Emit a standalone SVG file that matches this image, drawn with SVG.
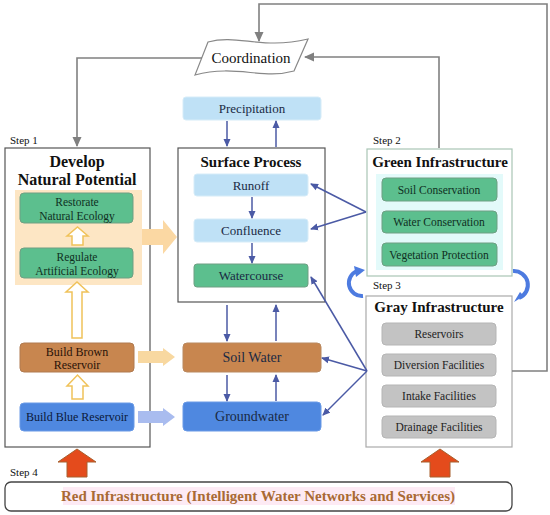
<svg xmlns="http://www.w3.org/2000/svg" width="550" height="515" viewBox="0 0 550 515" font-family="'Liberation Serif', 'DejaVu Serif', serif">
<defs>
<style>
text{font-family:"Liberation Serif","DejaVu Serif",serif;text-anchor:middle}
.step{font-size:11px;text-anchor:start;fill:#111}
.frame{fill:#fff;stroke:#555;stroke-width:1.2}
.title{font-size:14.5px;font-weight:bold;fill:#111}
.lb{fill:#bfe1f6;stroke:#d6ecf8;stroke-width:1}
.gr{fill:#5cbf8e;stroke:#6f9f83;stroke-width:1}
.gy{fill:#c3c3c3;stroke:#b5b5b5;stroke-width:1}
.lbl{font-size:13px;fill:#1a2a44}
.gl{font-size:11.5px;fill:#0f2f1f}
.yl{font-size:11.5px;fill:#222}
.bl{stroke:#4b5aa5;stroke-width:1.5;fill:none}
.cg{stroke:#808080;stroke-width:1.6;fill:none}
.hol{fill:#fff;stroke:#f0c25a;stroke-width:1.5}
.curv{stroke:#4d7be0;stroke-width:4;fill:none}
</style>
<marker id="ab" markerWidth="8" markerHeight="8" refX="7" refY="4" orient="auto" markerUnits="userSpaceOnUse">
<path d="M0,0.5 L8,4 L0,7.5 Z" fill="#4b5aa5"/>
</marker>
<marker id="ag" markerWidth="10" markerHeight="10" refX="9" refY="5" orient="auto" markerUnits="userSpaceOnUse">
<path d="M0,0.5 L10,5 L0,9.5 Z" fill="#808080"/>
</marker>
</defs>
<rect width="550" height="515" fill="#fff"/>

<g id="coordination">
<path d="M208,42 C238,34 262,50 308,39 L294,71 C262,80 236,64 195,75 Z" fill="#fff" stroke="#888" stroke-width="1.2"/>
<text x="251" y="63" style="font-size:15px" fill="#111">Coordination</text>
</g>

<g id="step1">
<text class="step" x="10" y="144">Step 1</text>
<rect class="frame" x="5" y="148" width="145" height="299"/>
<text class="title" x="77" y="167" style="font-size:16px">Develop</text>
<text class="title" x="77" y="185" style="font-size:16px">Natural Potential</text>
<rect x="15" y="190" width="127" height="95" fill="#fde6c4"/>
<path d="M142,229 H163 V220 L177,237 L163,254 V245 H142 Z" fill="#fbd8a3"/>
<rect x="20" y="193" width="113" height="30" rx="4" class="gr"/>
<text class="gl" x="77" y="206">Restorate</text>
<text class="gl" x="77" y="220">Natural Ecology</text>
<path class="hol" d="M72,245 V236 H67 L77.5,227 L88,236 H83 V245 Z"/>
<rect x="20" y="248" width="113" height="30" rx="4" class="gr"/>
<text class="gl" x="77" y="261">Regulate</text>
<text class="gl" x="77" y="275">Artificial Ecology</text>
<path class="hol" d="M72,338 V292 H66 L77,282 L88,292 H82 V338 Z"/>
</g>

<g id="brown">
<rect x="20" y="343" width="114" height="29" rx="4" fill="#c8864f" stroke="#b07a50"/>
<text x="77" y="356" style="font-size:12px" fill="#2a1208">Build Brown</text>
<text x="77" y="369" style="font-size:12px" fill="#2a1208">Reservoir</text>
<path class="hol" d="M72,399 V386 H67 L77.5,375 L88,386 H83 V399 Z"/>
<path d="M138,351 H163 V348 L175,357 L163,366 V363 H138 Z" fill="#f8d8a0"/>
</g>

<g id="blue">
<rect x="20" y="403" width="114" height="28" rx="4" fill="#4f88e0" stroke="#6a9ae6"/>
<text x="77" y="421" style="font-size:12px" fill="#0a1838">Build Blue Reservoir</text>
<path d="M138,411 H163 V408 L175,417 L163,426 V423 H138 Z" fill="#a9bcef"/>
</g>

<g id="precipitation">
<rect x="183" y="97" width="138" height="23" rx="3" class="lb"/>
<text class="lbl" x="252" y="113">Precipitation</text>
</g>

<g id="surface">
<rect class="frame" x="178" y="148" width="147" height="154"/>
<text class="title" x="251" y="167" style="font-size:15px">Surface Process</text>
<rect x="194" y="174" width="114" height="22" rx="3" class="lb"/>
<text class="lbl" x="251" y="190">Runoff</text>
<rect x="194" y="219" width="114" height="23" rx="3" class="lb"/>
<text class="lbl" x="251" y="235">Confluence</text>
<rect x="194" y="264" width="114" height="23" rx="3" class="gr"/>
<text class="lbl" x="251" y="280" fill="#0f2f1f">Watercourse</text>
</g>

<g id="soilwater">
<rect x="183" y="343" width="138" height="29" rx="4" fill="#c8864f" stroke="#b98960"/>
<text class="lbl" x="252" y="362" style="font-size:14px" fill="#2a1208">Soil Water</text>
</g>

<g id="groundwater">
<rect x="183" y="402" width="138" height="29" rx="4" fill="#4f88e0" stroke="#6a9ae6"/>
<text class="lbl" x="252" y="421" style="font-size:14px" fill="#0a1838">Groundwater</text>
</g>

<g id="green">
<text class="step" x="373" y="144">Step 2</text>
<rect x="367" y="149" width="145" height="127" fill="#fff" stroke="#a9c5b5" stroke-width="1.2"/>
<text class="title" x="440" y="167" style="font-size:15px" fill="#3f8a5c">Green Infrastructure</text>
<rect x="376" y="174" width="127" height="96" fill="#e3fafa"/>
<rect x="382" y="178" width="115" height="23" rx="4" class="gr"/>
<text class="gl" x="439" y="194">Soil Conservation</text>
<rect x="382" y="211" width="115" height="22" rx="4" class="gr"/>
<text class="gl" x="439" y="226">Water Conservation</text>
<rect x="382" y="243" width="115" height="23" rx="4" class="gr"/>
<text class="gl" x="439" y="259">Vegetation Protection</text>
</g>

<g id="gray">
<text class="step" x="373" y="289">Step 3</text>
<rect x="366" y="296" width="146" height="151" fill="#fff" stroke="#aaa" stroke-width="1.2"/>
<text class="title" x="439" y="312" style="font-size:15px" fill="#666">Gray Infrastructure</text>
<rect x="382" y="323" width="114" height="22" rx="4" class="gy"/>
<text class="yl" x="439" y="338">Reservoirs</text>
<rect x="382" y="354" width="114" height="22" rx="4" class="gy"/>
<text class="yl" x="439" y="369">Diversion Facilities</text>
<rect x="382" y="385" width="114" height="22" rx="4" class="gy"/>
<text class="yl" x="439" y="400">Intake Facilities</text>
<rect x="382" y="416" width="114" height="22" rx="4" class="gy"/>
<text class="yl" x="439" y="431">Drainage Facilities</text>
</g>

<g id="red">
<text class="step" x="10" y="476">Step 4</text>
<path d="M67,477 V462 H58 L77,449 L96,462 H87 V477 Z" fill="#e44b1c" stroke="#a8602e" stroke-width="1"/>
<path d="M430,477 V462 H421 L440,449 L459,462 H450 V477 Z" fill="#e44b1c" stroke="#a8602e" stroke-width="1"/>
<rect x="5" y="482" width="507" height="29" rx="6" fill="#fff" stroke="#444" stroke-width="1.3"/>
<rect x="63" y="487" width="392" height="18" fill="#fdeaf4"/>
<text x="258" y="501" style="font-size:15px;font-weight:bold" fill="#a96a35">Red Infrastructure (Intelligent Water Networks and Services)</text>
</g>

<g id="connectors">
<path class="cg" d="M202,58 H77 V146" marker-end="url(#ag)"/>
<path class="cg" d="M439,148 V57 H305" marker-end="url(#ag)"/>
<path class="cg" d="M512,371 H547 V4 H259 V41" marker-end="url(#ag)"/>
<line class="bl" x1="227" y1="121" x2="227" y2="146" marker-end="url(#ab)"/>
<line class="bl" x1="276" y1="147" x2="276" y2="121" marker-end="url(#ab)"/>
<line class="bl" x1="252" y1="197" x2="252" y2="218" marker-end="url(#ab)"/>
<line class="bl" x1="252" y1="243" x2="252" y2="263" marker-end="url(#ab)"/>
<line class="bl" x1="227" y1="305" x2="227" y2="341" marker-end="url(#ab)"/>
<line class="bl" x1="276" y1="341" x2="276" y2="305" marker-end="url(#ab)"/>
<line class="bl" x1="227" y1="375" x2="227" y2="401" marker-end="url(#ab)"/>
<line class="bl" x1="276" y1="401" x2="276" y2="375" marker-end="url(#ab)"/>
<line class="bl" x1="366" y1="212" x2="311" y2="184" marker-end="url(#ab)"/>
<line class="bl" x1="366" y1="212" x2="311" y2="229" marker-end="url(#ab)"/>
<line class="bl" x1="367" y1="371" x2="311" y2="277" marker-end="url(#ab)"/>
<line class="bl" x1="367" y1="371" x2="322" y2="358" marker-end="url(#ab)"/>
<line class="bl" x1="367" y1="371" x2="323" y2="415" marker-end="url(#ab)"/>
<path class="curv" d="M363,296 A13,13 0 0 1 357,271"/>
<path d="M354,266 L365,270 L356,277 Z" fill="#4d7be0"/>
<path class="curv" d="M513,271 A14,14 0 0 1 519,298"/>
<path d="M524,296 L514,302 L520,292 Z" fill="#4d7be0"/>
</g>
</svg>
